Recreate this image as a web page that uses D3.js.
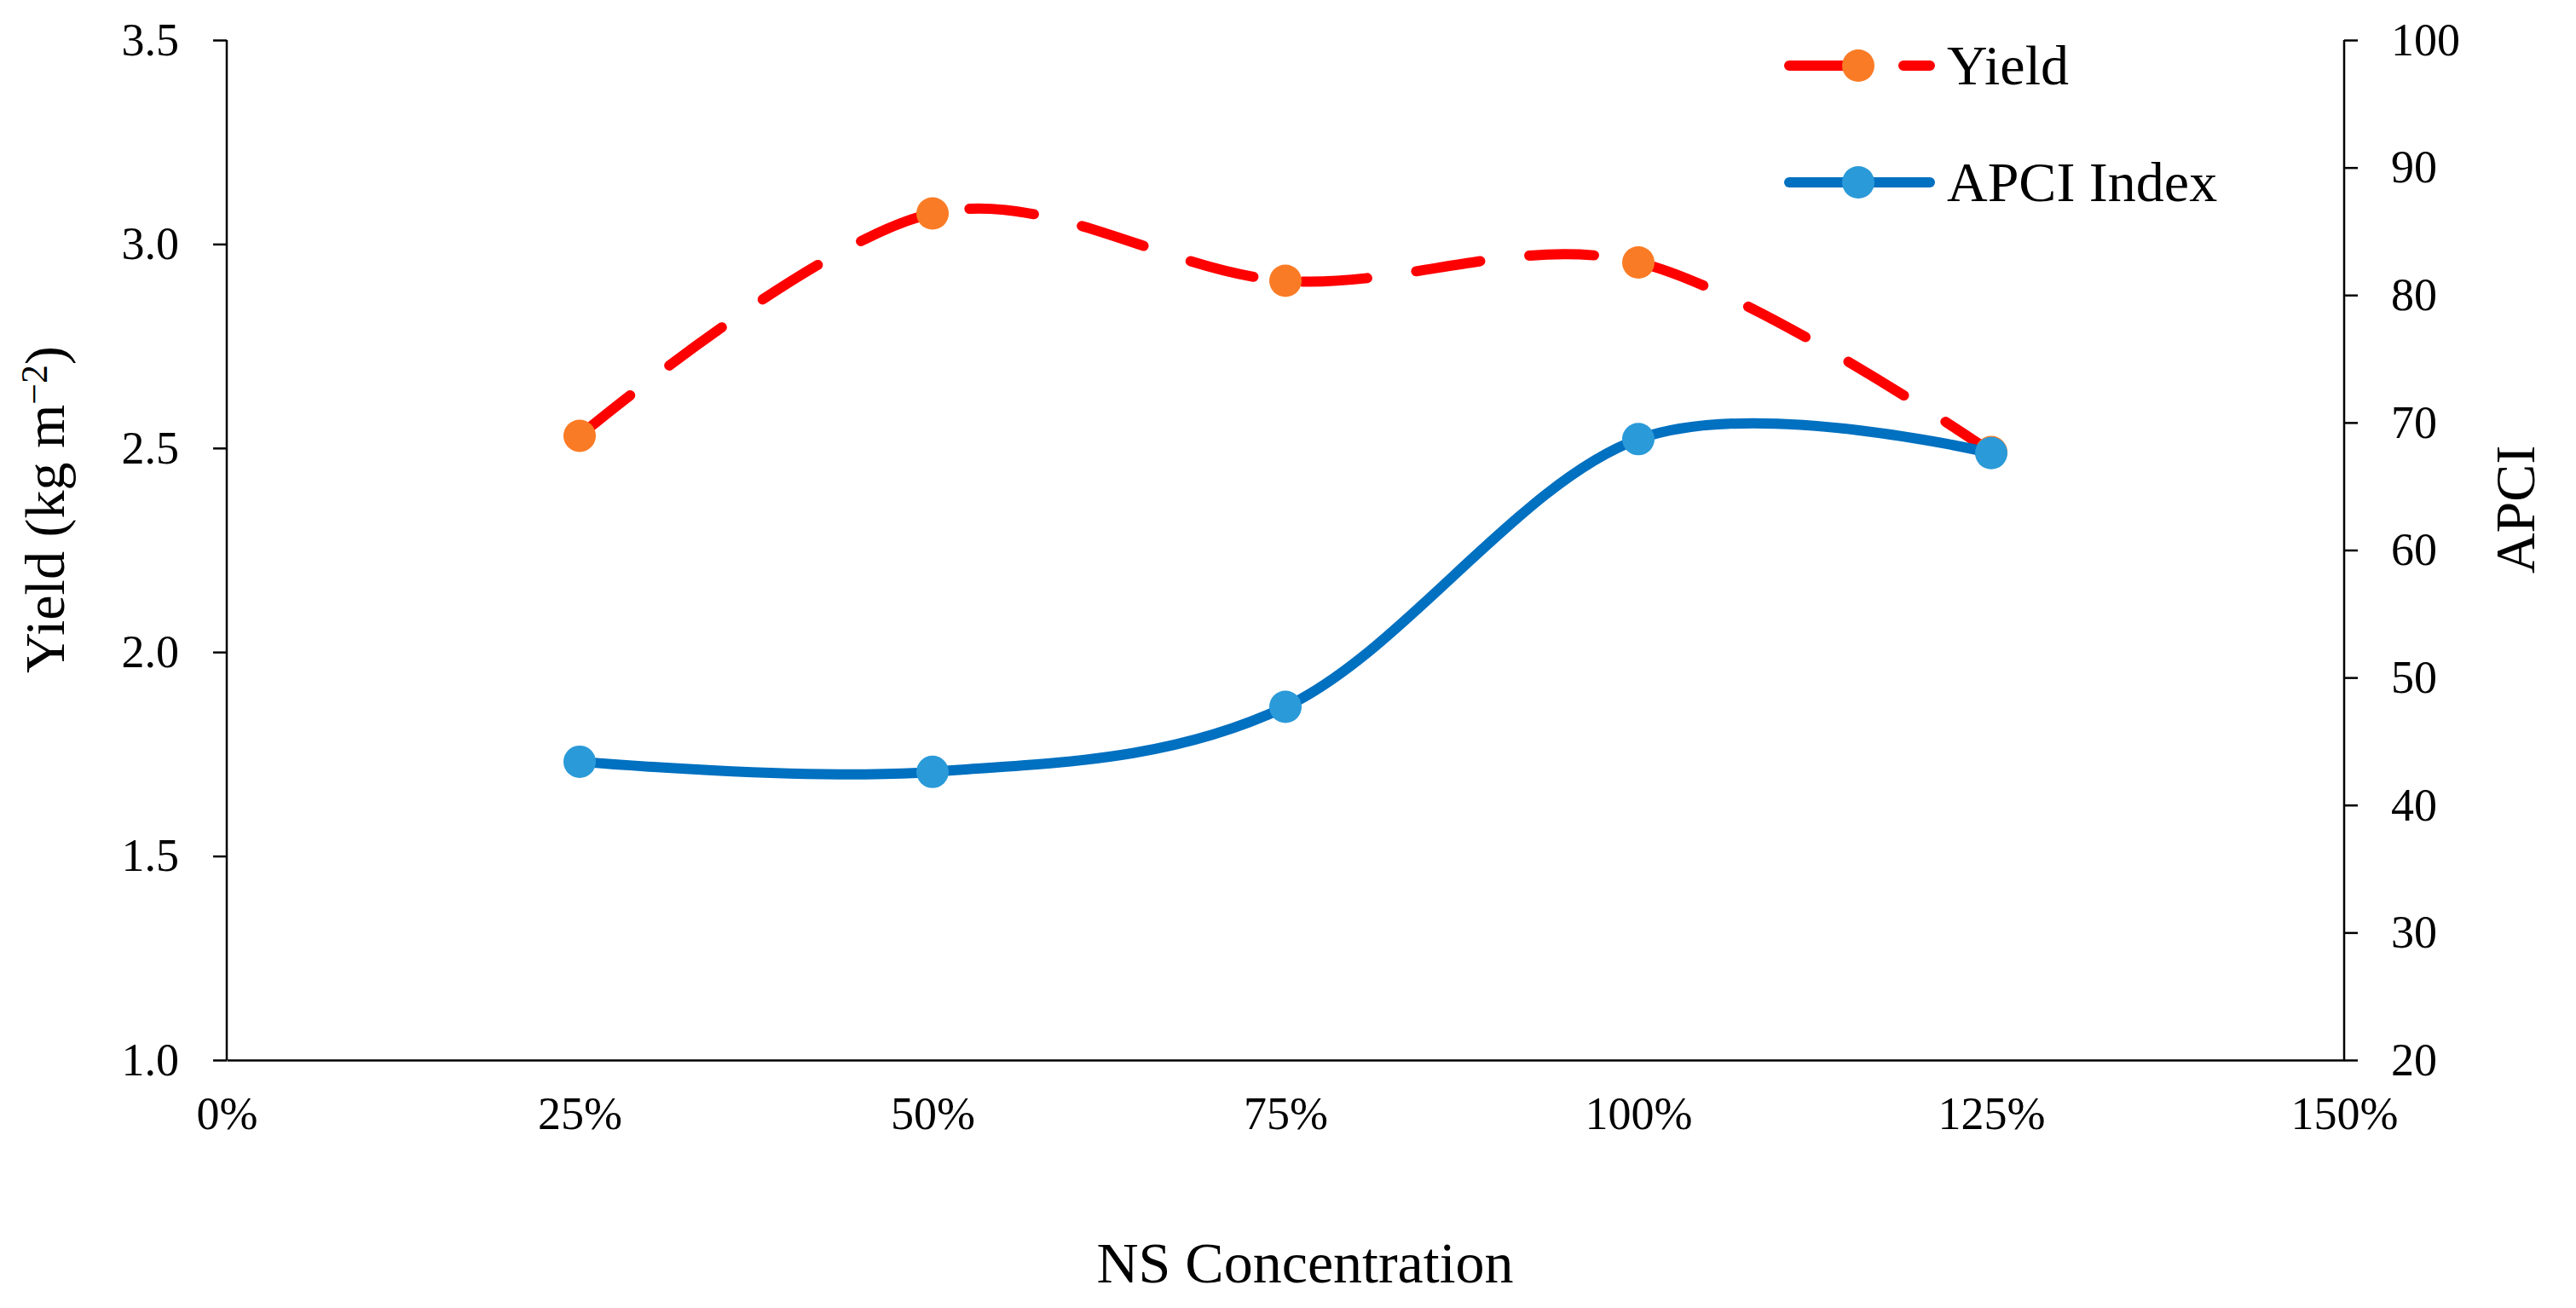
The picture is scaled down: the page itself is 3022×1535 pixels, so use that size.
<!DOCTYPE html>
<html>
<head>
<meta charset="utf-8">
<script src="https://cdn.jsdelivr.net/npm/d3@7"></script>
<style>
  body { margin: 0; background: #fff; }
  svg text { font-family: "Liberation Serif", "Times New Roman", serif; fill: #000; }
</style>
</head>
<body>
<svg id="chart" width="3022" height="1535"></svg>
<script>
// values
var categories = [0.25, 0.50, 0.75, 1.00, 1.25];
var yieldValues = [2.53, 3.075, 2.91, 2.955, 2.49];
var apciValues = [43.4, 42.6, 47.7, 68.7, 67.6];

var xTicks = [0, 0.25, 0.5, 0.75, 1.0, 1.25, 1.5];
var yieldTicks = [1.0, 1.5, 2.0, 2.5, 3.0, 3.5];
var apciTicks = [20, 30, 40, 50, 60, 70, 80, 90, 100];
var seriesNames = ["Yield", "APCI Index"];

var svg = d3.select("#chart");
// note: "top" is a reserved window property, so use plot* names
var plotL = 266, plotR = 2750, plotT = 47, plotB = 1244;

var x = d3.scaleLinear().domain([0, 1.5]).range([plotL, plotR]);
var yL = d3.scaleLinear().domain([1.0, 3.5]).range([plotB, plotT]);
var yR = d3.scaleLinear().domain([20, 100]).range([plotB, plotT]);

// axes
var xAxis = svg.append("g")
    .attr("transform", "translate(0," + plotB + ")")
    .call(d3.axisBottom(x).tickValues(xTicks).tickSize(0).tickPadding(43)
        .tickFormat(d3.format(".0%")));

var leftAxis = svg.append("g")
    .attr("transform", "translate(" + plotL + ",0)")
    .call(d3.axisLeft(yL).tickValues(yieldTicks).tickSize(16).tickPadding(40)
        .tickFormat(d3.format(".1f")));

var rightAxis = svg.append("g")
    .attr("transform", "translate(" + plotR + ",0)")
    .call(d3.axisRight(yR).tickValues(apciTicks).tickSize(16).tickPadding(39));

[xAxis, leftAxis, rightAxis].forEach(function (g) {
    g.select(".domain").attr("stroke", "#000").attr("stroke-width", 2.5);
    g.selectAll(".tick line").attr("stroke", "#000").attr("stroke-width", 2.5);
    g.selectAll(".tick text").style("font-size", "54px").attr("fill", "#000");
});
// left/right domain paths have outer ticks; redraw as plain lines
leftAxis.select(".domain").attr("d", "M0," + plotT + "V" + plotB);
rightAxis.select(".domain").attr("d", "M0," + plotT + "V" + plotB);

// smoothed lines
var yieldLine = d3.line()
    .x(function (d, i) { return x(categories[i]); })
    .y(function (d) { return yL(d); })
    .curve(d3.curveCardinal.tension(0));

var apciLine = d3.line()
    .x(function (d, i) { return x(categories[i]); })
    .y(function (d) { return yR(d); })
    .curve(d3.curveCardinal.tension(0));

svg.append("path")
    .datum(yieldValues)
    .attr("d", yieldLine)
    .attr("fill", "none")
    .attr("stroke", "#FF0000")
    .attr("stroke-width", 12)
    .attr("stroke-linecap", "round")
    .attr("stroke-dasharray", "76,58");

svg.selectAll(".yieldDot")
    .data(yieldValues)
    .enter().append("circle")
    .attr("class", "yieldDot")
    .attr("cx", function (d, i) { return x(categories[i]); })
    .attr("cy", function (d) { return yL(d); })
    .attr("r", 19)
    .attr("fill", "#FA7B25");

svg.append("path")
    .datum(apciValues)
    .attr("d", apciLine)
    .attr("fill", "none")
    .attr("stroke", "#0070C0")
    .attr("stroke-width", 12)
    .attr("stroke-linecap", "round");

svg.selectAll(".apciDot")
    .data(apciValues)
    .enter().append("circle")
    .attr("class", "apciDot")
    .attr("cx", function (d, i) { return x(categories[i]); })
    .attr("cy", function (d) { return yR(d); })
    .attr("r", 19)
    .attr("fill", "#2A9AD8");

// axis titles
svg.append("text")
    .attr("x", (plotL + plotR) / 2 + 23)
    .attr("y", 1505)
    .attr("text-anchor", "middle")
    .style("font-size", "68px")
    .text("NS Concentration");

var yt = svg.append("text")
    .attr("transform", "translate(75,598) rotate(-90)")
    .attr("text-anchor", "middle")
    .style("font-size", "66px");
yt.append("tspan").text("Yield (kg m");
yt.append("tspan").attr("dy", "-0.45em").style("font-size", "44px").text("\u22122");
yt.append("tspan").attr("dy", "0.3em").text(")");

svg.append("text")
    .attr("transform", "translate(2973,598) rotate(-90)")
    .attr("text-anchor", "middle")
    .style("font-size", "66px")
    .text("APCI");

// legend
var legendY = [77, 214];
var legend = svg.selectAll(".legend")
    .data(seriesNames)
    .enter().append("g")
    .attr("class", "legend")
    .attr("transform", function (d, i) { return "translate(0," + legendY[i] + ")"; });

legend.append("line")
    .attr("x1", 2099).attr("x2", 2264)
    .attr("stroke", function (d, i) { return i === 0 ? "#FF0000" : "#0070C0"; })
    .attr("stroke-width", 12)
    .attr("stroke-linecap", "round")
    .attr("stroke-dasharray", function (d, i) { return i === 0 ? "76,58" : null; });

legend.append("circle")
    .attr("cx", 2180)
    .attr("r", 19)
    .attr("fill", function (d, i) { return i === 0 ? "#FA7B25" : "#2A9AD8"; });

legend.append("text")
    .attr("x", 2284)
    .attr("y", 22)
    .style("font-size", "66px")
    .text(function (d) { return d; });
</script>
</body>
</html>
